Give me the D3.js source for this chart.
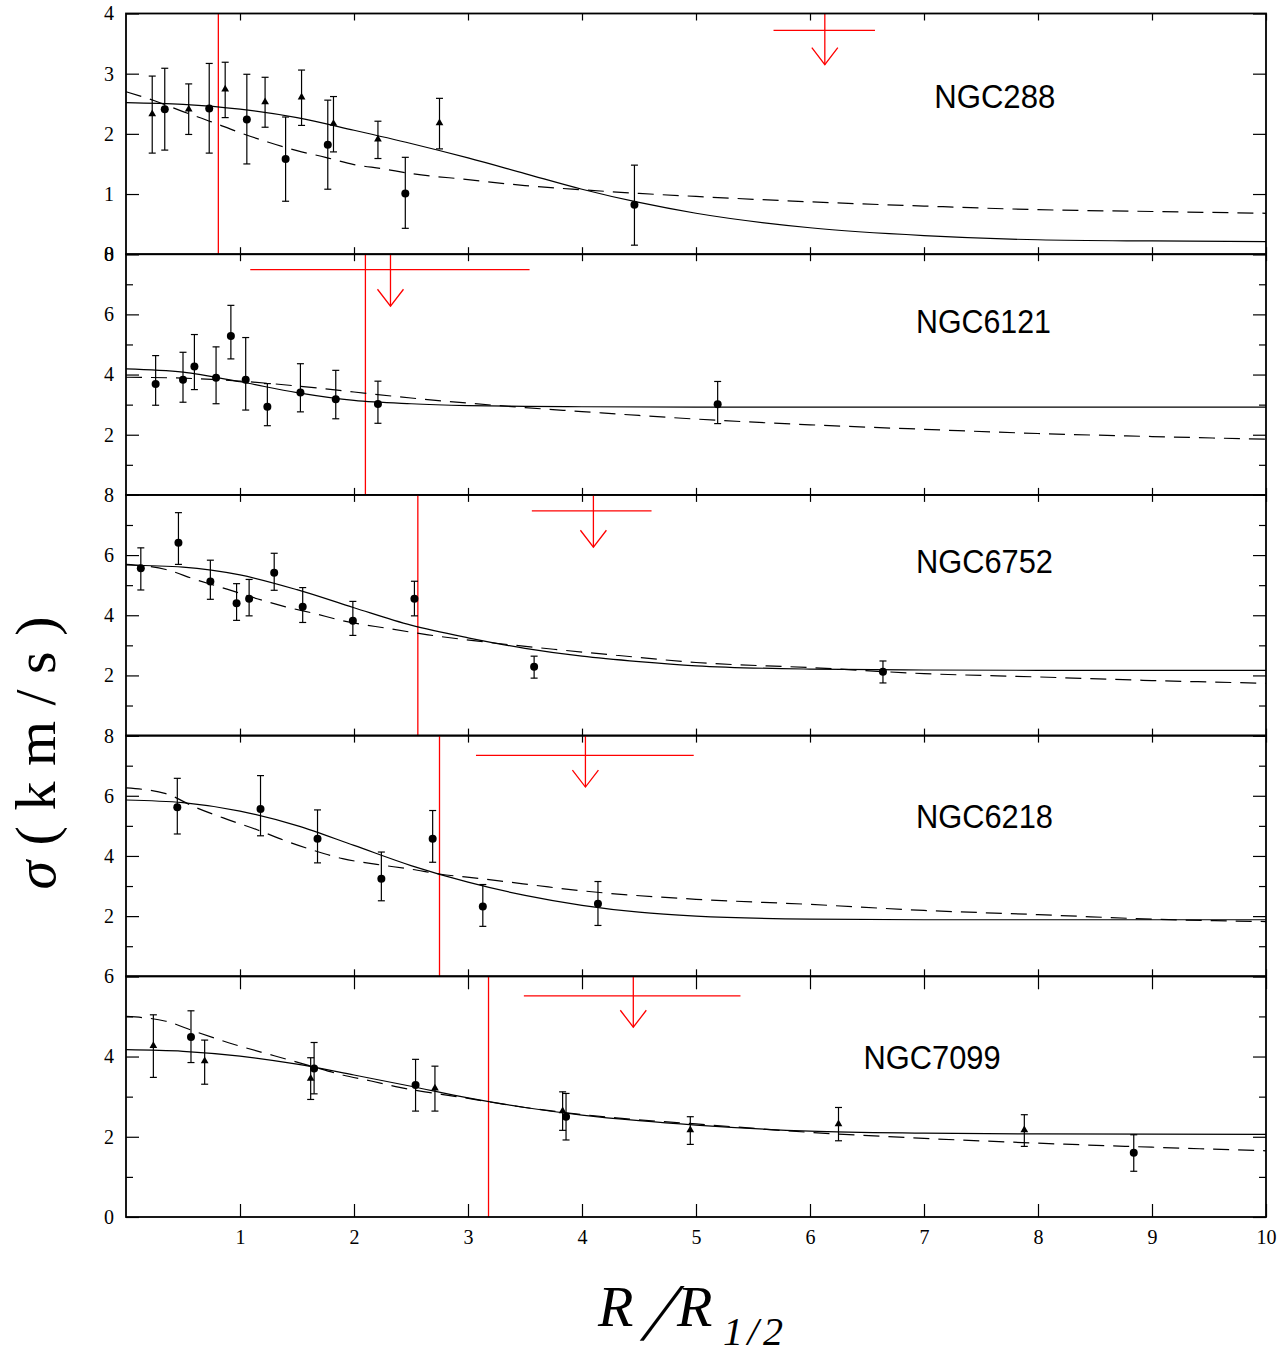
<!doctype html>
<html lang="en">
<head>
    <meta charset="utf-8"/>
    <title>Velocity dispersion profiles</title>
    <style>
        body { margin: 0; background: #fff; }
        .frame { fill: none; stroke: #000; stroke-width: 1.8; }
        .fit { fill: none; stroke: #000; stroke-width: 1.2; }
        .dash { stroke-dasharray: 16, 9; }
        .err { stroke: #000; stroke-width: 1.2; }
        .red { stroke: #ff0000; stroke-width: 1.3; fill: none; }
        .tick line { stroke: #000; stroke-width: 1.2; }
        .domain { display: none; }
    </style>
    <script src="https://d3js.org/d3.v7.min.js"></script>
</head>
<body>
<svg width="1287" height="1353"></svg>
<script>

    // ---- data ----
    var clusters = ["NGC288", "NGC6121", "NGC6752", "NGC6218", "NGC7099"];
    var yMax = [4, 8, 8, 8, 6];
    var yMajor = [[0, 1, 2, 3, 4], [0, 2, 4, 6, 8], [0, 2, 4, 6, 8], [0, 2, 4, 6, 8], [0, 2, 4, 6]];
    var yMinor = [[], [1, 3, 5, 7], [1, 3, 5, 7], [1, 3, 5, 7], [1, 3, 5]];
    var yTickLabels = [["0", "1", "2", "3", "4"], ["", "2", "4", "6", "8"], ["", "2", "4", "6", "8"],
                       ["", "2", "4", "6", "8"], ["0", "2", "4", "6"]];
    var xTicks = [1, 2, 3, 4, 5, 6, 7, 8, 9, 10];

    // points: [R, sigma, low, high]
    var ngc288Circles = [[0.34, 2.41, 1.73, 3.09], [0.73, 2.42, 1.68, 3.17], [1.06, 2.24, 1.50, 2.99],
        [1.40, 1.58, 0.88, 2.28], [1.77, 1.82, 1.08, 2.56], [2.45, 1.01, 0.43, 1.61], [4.46, 0.82, 0.15, 1.48]];
    var ngc288Triangles = [[0.23, 2.33, 1.68, 2.96], [0.55, 2.41, 1.99, 2.83], [0.87, 2.74, 2.27, 3.19],
        [1.22, 2.53, 2.11, 2.94], [1.54, 2.61, 2.14, 3.06], [1.82, 2.17, 1.70, 2.62],
        [2.21, 1.91, 1.59, 2.21], [2.75, 2.18, 1.75, 2.59]];
    var ngc6121Circles = [[0.26, 3.69, 2.98, 4.63], [0.50, 3.83, 3.08, 4.74], [0.60, 4.27, 3.50, 5.33],
        [0.79, 3.89, 3.03, 4.92], [0.92, 5.28, 4.52, 6.30], [1.05, 3.83, 2.82, 5.23],
        [1.24, 2.93, 2.30, 3.70], [1.53, 3.40, 2.76, 4.36], [1.84, 3.18, 2.53, 4.14],
        [2.21, 3.02, 2.38, 3.78], [5.19, 3.01, 2.37, 3.77]];
    var ngc6121Triangles = [];
    var ngc6752Circles = [[0.13, 5.56, 4.84, 6.24], [0.46, 6.41, 5.69, 7.41], [0.74, 5.12, 4.53, 5.83],
        [0.97, 4.40, 3.83, 5.05], [1.08, 4.55, 3.98, 5.19], [1.30, 5.41, 4.83, 6.06],
        [1.55, 4.28, 3.76, 4.92], [1.99, 3.82, 3.33, 4.46], [2.53, 4.55, 3.98, 5.13],
        [3.58, 2.29, 1.91, 2.64], [6.64, 2.12, 1.75, 2.48]];
    var ngc6752Triangles = [];
    var ngc6218Circles = [[0.45, 5.62, 4.73, 6.58], [1.18, 5.56, 4.67, 6.67], [1.68, 4.57, 3.77, 5.53],
        [2.24, 3.24, 2.51, 4.13], [2.69, 4.57, 3.79, 5.51], [3.13, 2.32, 1.66, 3.05], [4.14, 2.41, 1.69, 3.15]];
    var ngc6218Triangles = [];
    var ngc7099Circles = [[0.57, 4.49, 3.85, 5.14], [1.65, 3.70, 3.07, 4.35], [2.54, 3.29, 2.64, 3.93],
        [3.86, 2.50, 1.92, 3.08], [8.84, 1.60, 1.14, 2.05]];
    var ngc7099Triangles = [[0.24, 4.27, 3.48, 5.04], [0.69, 3.89, 3.31, 4.41], [1.62, 3.45, 2.93, 3.97],
        [2.71, 3.21, 2.64, 3.76], [3.83, 2.64, 2.16, 3.12], [4.95, 2.17, 1.81, 2.50],
        [6.25, 2.32, 1.90, 2.73], [7.88, 2.17, 1.76, 2.55]];

    // model curves: [R, sigma]
    var ngc288Solid = [[0, 2.52], [0.5, 2.49], [1, 2.41], [1.5, 2.27], [2, 2.06], [2.5, 1.84], [3, 1.60],
        [3.5, 1.34], [4, 1.08], [4.5, 0.86], [5, 0.68], [6, 0.44], [7, 0.31], [8, 0.24], [9, 0.22], [10, 0.21]];
    var ngc288Dashed = [[0, 2.70], [0.25, 2.55], [0.5, 2.37], [0.75, 2.20], [1, 2.02], [1.25, 1.86],
        [1.5, 1.72], [1.75, 1.61], [2, 1.49], [2.25, 1.42], [2.5, 1.34], [3, 1.24], [3.5, 1.14], [4, 1.07],
        [4.5, 1.01], [5, 0.96], [6, 0.87], [7, 0.80], [8, 0.74], [9, 0.71], [10, 0.68]];
    var ngc6121Solid = [[0, 4.19], [0.5, 4.08], [1, 3.76], [1.5, 3.40], [2, 3.14], [2.5, 3.03], [3, 2.97],
        [3.5, 2.94], [4, 2.93], [5, 2.92], [6, 2.92], [8, 2.92], [10, 2.92]];
    var ngc6121Dashed = [[0, 3.91], [0.5, 3.88], [1, 3.78], [1.5, 3.62], [2, 3.42], [2.5, 3.22], [3, 3.05],
        [3.5, 2.90], [4, 2.77], [4.5, 2.64], [5, 2.52], [6, 2.33], [7, 2.18], [8, 2.04], [9, 1.94], [10, 1.85]];
    var ngc6752Solid = [[0, 5.67], [0.5, 5.60], [1, 5.34], [1.5, 4.85], [2, 4.25], [2.5, 3.67], [3, 3.25],
        [3.5, 2.90], [4, 2.64], [4.5, 2.46], [5, 2.32], [6, 2.21], [7, 2.18], [8, 2.17], [10, 2.17]];
    var ngc6752Dashed = [[0, 5.69], [0.35, 5.52], [0.6, 5.20], [0.9, 4.85], [1.15, 4.55], [1.4, 4.28],
        [1.65, 4.06], [1.9, 3.82], [2.3, 3.56], [2.65, 3.35], [3.2, 3.09], [3.75, 2.87], [4.3, 2.67],
        [5, 2.43], [6, 2.26], [7, 2.06], [8, 1.95], [9, 1.83], [10, 1.74]];
    var ngc6218Solid = [[0, 5.86], [0.5, 5.77], [1, 5.49], [1.5, 5.01], [2, 4.35], [2.5, 3.68], [3, 3.13],
        [3.5, 2.69], [4, 2.36], [4.5, 2.13], [5, 2.00], [6, 1.90], [7, 1.88], [8, 1.88], [10, 1.88]];
    var ngc6218Dashed = [[0, 6.26], [0.35, 6.07], [0.6, 5.63], [0.9, 5.20], [1.15, 4.87], [1.4, 4.50],
        [1.65, 4.18], [1.9, 3.91], [2.2, 3.72], [2.5, 3.56], [2.75, 3.40], [3.1, 3.25], [3.6, 3.02],
        [3.9, 2.88], [4.2, 2.77], [5, 2.56], [6, 2.39], [7, 2.19], [8, 2.05], [9, 1.90], [10, 1.82]];
    var ngc7099Solid = [[0, 4.17], [0.5, 4.13], [1, 4.01], [1.5, 3.81], [2, 3.54], [2.5, 3.26], [3, 2.97],
        [3.5, 2.73], [4, 2.54], [4.5, 2.40], [5, 2.29], [6, 2.14], [7, 2.09], [8, 2.07], [10, 2.06]];
    var ngc7099Dashed = [[0, 5.00], [0.35, 4.88], [0.6, 4.63], [0.95, 4.30], [1.3, 4.02], [1.6, 3.78],
        [1.9, 3.54], [2.15, 3.39], [2.4, 3.23], [2.95, 2.98], [3.5, 2.73], [4.3, 2.47], [5, 2.32],
        [6, 2.11], [7, 1.96], [8, 1.84], [9, 1.74], [10, 1.65]];

    // red markers: vertical line position, and limit [R, low R, high R, sigma, arrow tip]
    var redLines = [0.81, 2.10, 2.56, 2.75, 3.18];
    var redLimits = [[6.13, 5.68, 6.57, 3.72, 3.15], [2.32, 1.09, 3.54, 7.49, 6.27],
        [4.10, 3.56, 4.61, 7.47, 6.26], [4.03, 3.07, 4.98, 7.34, 6.29], [4.45, 3.49, 5.39, 5.51, 4.73]];

    var circles = [ngc288Circles, ngc6121Circles, ngc6752Circles, ngc6218Circles, ngc7099Circles];
    var triangles = [ngc288Triangles, ngc6121Triangles, ngc6752Triangles, ngc6218Triangles, ngc7099Triangles];
    var solids = [ngc288Solid, ngc6121Solid, ngc6752Solid, ngc6218Solid, ngc7099Solid];
    var dashes = [ngc288Dashed, ngc6121Dashed, ngc6752Dashed, ngc6218Dashed, ngc7099Dashed];

    // ---- layout ----
    var svg = d3.select("svg"),
        left = 126, right = 1266,
        top0 = 13.5, panelH = 240.7;

    // label anchor per panel: [R, sigma] for the text's left baseline, and text width
    var nameAnchor = [[7.09, 2.43, 121], [6.93, 5.38, 135], [6.93, 5.40, 137], [6.93, 4.93, 137], [6.47, 3.68, 137]];

    var x = d3.scaleLinear().domain([0, 10]).range([left, right]);

    clusters.forEach(function(name, p) {
        var top = top0 + p * panelH,
            bottom = top + panelH;
        var y = d3.scaleLinear().domain([0, yMax[p]]).range([bottom, top]);
        var g = svg.append("g");
        var xTickLen = p === 4 ? 13 : 7;

        // red vertical line
        g.append("line").attr("class", "red")
         .attr("x1", x(redLines[p])).attr("x2", x(redLines[p]))
         .attr("y1", top).attr("y2", bottom);

        // red limit symbol
        var lim = redLimits[p];
        g.append("line").attr("class", "red")
         .attr("x1", x(lim[1])).attr("x2", x(lim[2]))
         .attr("y1", y(lim[3])).attr("y2", y(lim[3]));
        g.append("line").attr("class", "red")
         .attr("x1", x(lim[0])).attr("x2", x(lim[0]))
         .attr("y1", top).attr("y2", y(lim[4]));
        g.append("path").attr("class", "red")
         .attr("d", "M" + (x(lim[0]) - 13) + "," + (y(lim[4]) - 17) +
                    "L" + x(lim[0]) + "," + y(lim[4]) +
                    "L" + (x(lim[0]) + 13) + "," + (y(lim[4]) - 17));

        // model curves
        var line = d3.line()
            .x(function(d) { return x(d[0]); })
            .y(function(d) { return y(d[1]); })
            .curve(d3.curveMonotoneX);
        g.append("path").attr("class", "fit").attr("d", line(solids[p]));
        g.append("path").attr("class", "fit dash").attr("d", line(dashes[p]));

        // error bars
        var pts = circles[p].concat(triangles[p]);
        var eb = g.selectAll(".eb").data(pts).enter().append("g").attr("class", "eb");
        eb.append("line").attr("class", "err")
          .attr("x1", function(d) { return x(d[0]); }).attr("x2", function(d) { return x(d[0]); })
          .attr("y1", function(d) { return y(d[2]); }).attr("y2", function(d) { return y(d[3]); });
        [2, 3].forEach(function(k) {
            eb.append("line").attr("class", "err")
              .attr("x1", function(d) { return x(d[0]) - 3.5; }).attr("x2", function(d) { return x(d[0]) + 3.5; })
              .attr("y1", function(d) { return y(d[k]); }).attr("y2", function(d) { return y(d[k]); });
        });

        g.selectAll(".dot").data(circles[p]).enter().append("circle")
         .attr("cx", function(d) { return x(d[0]); })
         .attr("cy", function(d) { return y(d[1]); })
         .attr("r", 4).attr("fill", "#000");

        g.selectAll(".tri").data(triangles[p]).enter().append("path")
         .attr("transform", function(d) { return "translate(" + x(d[0]) + "," + y(d[1]) + ")"; })
         .attr("d", d3.symbol().type(d3.symbolTriangle).size(26))
         .attr("fill", "#000");

        // axes (ticks point inward)
        var labs = yTickLabels[p];
        g.append("g").attr("transform", "translate(" + left + ",0)")
         .call(d3.axisLeft(y).tickValues(yMajor[p]).tickSize(-13).tickPadding(12)
               .tickFormat(function(d, i) { return labs[i]; }));
        g.append("g").attr("transform", "translate(" + left + ",0)")
         .call(d3.axisLeft(y).tickValues(yMinor[p]).tickSize(-7).tickFormat(""));
        g.append("g").attr("transform", "translate(" + right + ",0)")
         .call(d3.axisRight(y).tickValues(yMajor[p]).tickSize(-13).tickFormat(""));
        g.append("g").attr("transform", "translate(" + right + ",0)")
         .call(d3.axisRight(y).tickValues(yMinor[p]).tickSize(-7).tickFormat(""));
        g.append("g").attr("transform", "translate(0," + top + ")")
         .call(d3.axisTop(x).tickValues(xTicks).tickSize(-xTickLen).tickFormat(""));
        g.append("g").attr("transform", "translate(0," + bottom + ")")
         .call(d3.axisBottom(x).tickValues(xTicks).tickSize(-xTickLen).tickPadding(13)
               .tickFormat(p === 4 ? d3.format("d") : ""));

        g.selectAll(".tick text")
         .attr("font-family", "'Liberation Serif', serif")
         .attr("font-size", 20)
         .attr("fill", "#000");

        g.append("rect").attr("class", "frame")
         .attr("x", left).attr("y", top)
         .attr("width", right - left).attr("height", panelH);

        var an = nameAnchor[p];
        g.append("text")
         .attr("x", x(an[0])).attr("y", y(an[1]))
         .attr("font-family", "'Liberation Sans', Arial, sans-serif")
         .attr("font-size", 34)
         .attr("textLength", an[2]).attr("lengthAdjust", "spacingAndGlyphs")
         .text(name);
    });

    // axis titles
    var yt = svg.append("text")
        .attr("transform", "translate(55,753) rotate(-90)")
        .attr("text-anchor", "middle")
        .attr("font-family", "'Liberation Serif', serif")
        .attr("font-size", 58)
        .attr("textLength", 273).attr("lengthAdjust", "spacing");
    yt.append("tspan").attr("font-style", "italic").text("σ");
    yt.append("tspan").text("(km/s)");

    var xt = svg.append("g").attr("font-family", "'Liberation Serif', serif").attr("font-style", "italic");
    xt.append("text").attr("x", 598).attr("y", 1326).attr("font-size", 58).text("R");
    xt.append("text").attr("transform", "translate(640,1340) skewX(-22)")
      .attr("font-size", 82).attr("font-style", "normal").text("/");
    xt.append("text").attr("x", 677).attr("y", 1326).attr("font-size", 58).text("R");
    xt.append("text").attr("x", 723).attr("y", 1345).attr("font-size", 40)
      .attr("textLength", 60).attr("lengthAdjust", "spacing").text("1/2");

</script>
</body>
</html>
